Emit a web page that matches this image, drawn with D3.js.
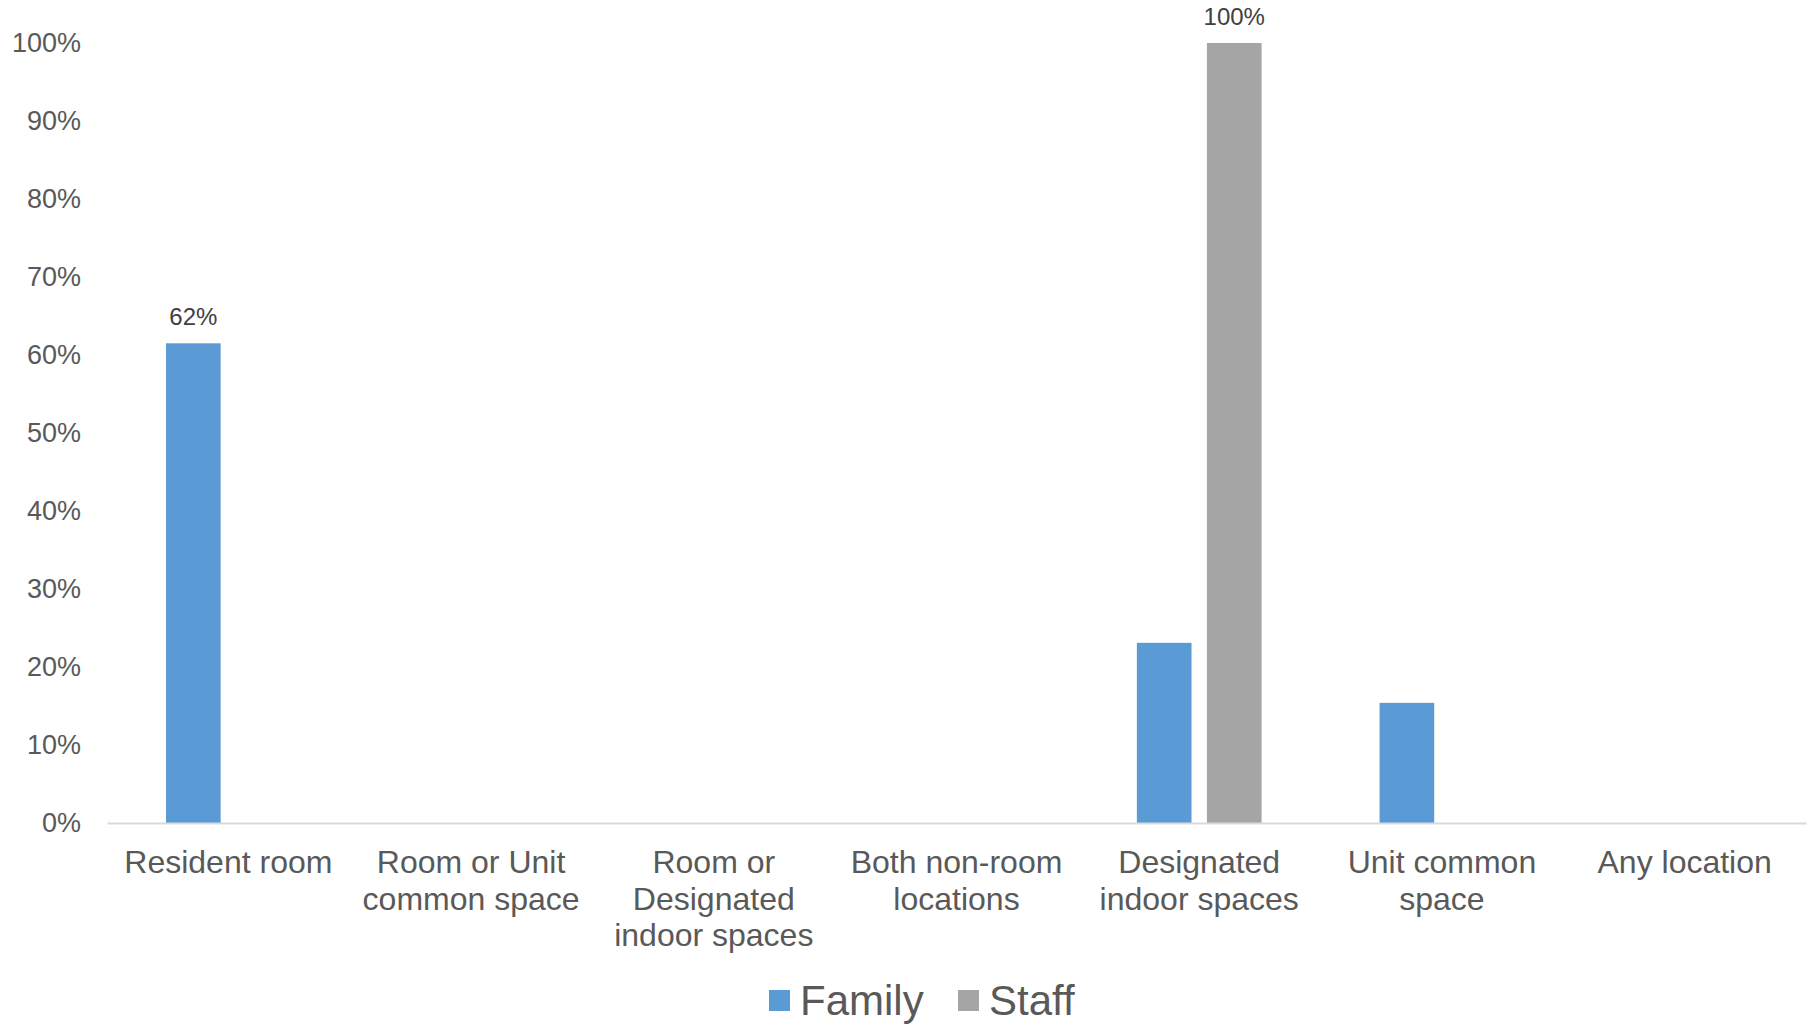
<!DOCTYPE html>
<html>
<head>
<meta charset="utf-8">
<script src="https://cdn.jsdelivr.net/npm/d3@7"></script>
<style>
  body { margin: 0; background: #fff; }
  svg { display: block; font-family: "Liberation Sans", Arial, sans-serif; }
</style>
</head>
<body>
<svg id="chart"></svg>
<script>
const categories = ["Resident room", "Room or Unit common space", "Room or Designated indoor spaces", "Both non-room locations", "Designated indoor spaces", "Unit common space", "Any location"];
const categoryLines = [["Resident room"], ["Room or Unit", "common space"], ["Room or", "Designated", "indoor spaces"], ["Both non-room", "locations"], ["Designated", "indoor spaces"], ["Unit common", "space"], ["Any location"]];
const seriesNames = ["Family", "Staff"];
const familyValues = [0.615, 0, 0, 0, 0.231, 0.154, 0];
const staffValues = [0, 0, 0, 0, 1.0, 0, 0];
const labelledFamily = [true, false, false, false, false, false, false];
const labelledStaff = [false, false, false, false, true, false, false];
const yTicks = [0, 0.1, 0.2, 0.3, 0.4, 0.5, 0.6, 0.7, 0.8, 0.9, 1.0];
const colors = { Family: "#5b9bd5", Staff: "#a5a5a5" };

const width = 1818, height = 1026;
const margin = { top: 43, right: 12, bottom: 203, left: 107 };

const svg = d3.select("#chart").attr("width", width).attr("height", height);

const x = d3.scaleBand().domain(categories).range([margin.left, width - margin.right]).paddingInner(0).paddingOuter(0);
const inner = d3.scaleBand().domain(seriesNames).range([59, x.bandwidth() - 59]).paddingInner(0.22);
const y = d3.scaleLinear().domain([0, 1]).range([height - margin.bottom, margin.top]);

// y axis
svg.append("g")
    .attr("transform", `translate(${margin.left},0)`)
    .call(d3.axisLeft(y).tickValues(yTicks).tickSize(0).tickPadding(26).tickFormat(d3.format(".0%")))
    .call(g => g.select(".domain").remove())
    .call(g => g.selectAll("text").attr("fill", "#595959").style("font-size", "27px").style("font-family", "Liberation Sans, Arial, sans-serif"));

const rows = categories.map((c, i) => ({ cat: c, Family: familyValues[i], Staff: staffValues[i], labels: { Family: labelledFamily[i], Staff: labelledStaff[i] } }));

const groups = svg.append("g").selectAll("g")
    .data(rows)
    .enter()
    .append("g")
    .attr("transform", d => `translate(${x(d.cat)},0)`);

const bars = groups.selectAll("rect")
    .data(d => seriesNames.map(s => ({ key: s, value: d[s], label: d.labels[s] })))
    .enter();

bars.append("rect")
    .attr("x", d => inner(d.key))
    .attr("y", d => y(d.value))
    .attr("width", inner.bandwidth())
    .attr("height", d => y(0) - y(d.value))
    .attr("fill", d => colors[d.key]);

bars.filter(d => d.label)
    .append("text")
    .attr("x", d => inner(d.key) + inner.bandwidth() / 2)
    .attr("y", d => y(d.value) - 18)
    .attr("text-anchor", "middle")
    .attr("fill", "#404040")
    .style("font-size", "24px")
    .text(d => d3.format(".0%")(d.value));

// x axis
const xAxis = svg.append("g")
    .attr("transform", `translate(0,${y(0)})`)
    .call(d3.axisBottom(x).tickSize(0).tickFormat(""));
xAxis.select(".domain").attr("stroke", "#d9d9d9").attr("stroke-width", 2);

xAxis.selectAll(".tick text").remove();
xAxis.selectAll(".tick")
    .append("text")
    .attr("fill", "#595959")
    .attr("text-anchor", "middle")
    .style("font-size", "32px")
    .style("font-family", "Liberation Sans, Arial, sans-serif")
    .each(function (d) {
        const lines = categoryLines[categories.indexOf(d)];
        d3.select(this).selectAll("tspan")
            .data(lines)
            .enter()
            .append("tspan")
            .attr("x", 0)
            .attr("y", (_, i) => 50 + i * 36.5)
            .text(t => t);
    });

// legend
const legend = svg.append("g").attr("transform", `translate(769,1000)`);
const legendPos = [0, 189];
seriesNames.forEach((s, i) => {
    const g = legend.append("g").attr("transform", `translate(${legendPos[i]},0)`);
    g.append("rect").attr("x", 0).attr("y", -10).attr("width", 21).attr("height", 21).attr("fill", colors[s]);
    g.append("text").attr("x", 31).attr("y", 15).attr("fill", "#595959").style("font-size", "42px").text(s);
});
</script>
</body>
</html>
